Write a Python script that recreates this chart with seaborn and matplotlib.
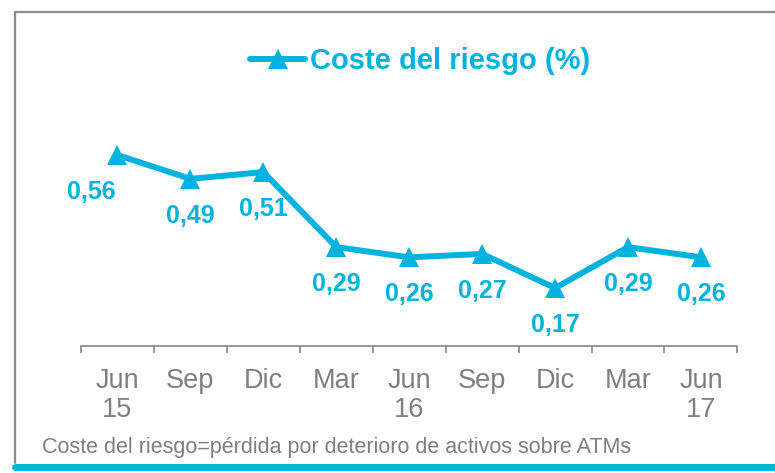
import numpy as np
import pandas as pd
import seaborn as sns
import matplotlib.pyplot as plt
from matplotlib.lines import Line2D

periods = ["Jun\n15", "Sep", "Dic", "Mar", "Jun\n16", "Sep", "Dic", "Mar", "Jun\n17"]
cost_risk = [0.56, 0.49, 0.51, 0.29, 0.26, 0.27, 0.17, 0.29, 0.26]
series_name = "Coste del riesgo (%)"
footnote = "Coste del riesgo=pérdida por deterioro de activos sobre ATMs"

cyan = "#00B3DE"
grey = "#7F7F7F"

sns.set_style("white")
plt.rcParams['font.family'] = ['Liberation Sans', 'DejaVu Sans']

df = pd.DataFrame({"pos": np.arange(len(periods)), "value": cost_risk})

fig = plt.figure(figsize=(7.75, 4.73), dpi=100)
ax = fig.add_axes([0.1045, 0.2685, 0.847, 0.685])

sns.lineplot(data=df, x="pos", y="value", ax=ax, color=cyan, linewidth=4.3,
             marker="^", markersize=15, markeredgewidth=0, label=series_name)

# value labels under each point
for i, v in enumerate(cost_risk):
    dx = -26 if i == 0 else 0
    ax.annotate(f"{v:.2f}".replace(".", ","), (i, v), xytext=(dx, -37),
                textcoords="offset pixels", ha="center", va="center",
                fontsize=18, fontweight="bold", color=cyan)

ax.set_xlim(-0.5, len(periods) - 0.5)
ax.set_ylim(0, 0.95)
ax.set_xticks(np.arange(len(periods)))
ax.set_xticklabels(periods, color=grey, fontsize=19.5, linespacing=1.15)
ax.set_xticks(np.arange(-0.5, len(periods), 1), minor=True)
ax.tick_params(axis="x", which="major", length=0, pad=16)
ax.tick_params(axis="x", which="minor", bottom=True, length=5, width=1.2,
               color="#868686", direction="out")
ax.set_yticks([])
ax.set_xlabel("")
ax.set_ylabel("")
for s in ["top", "right", "left"]:
    ax.spines[s].set_visible(False)
ax.spines["bottom"].set_color("#868686")
ax.spines["bottom"].set_linewidth(1.2)

leg = ax.legend(loc="center", bbox_to_anchor=(0.542, 0.871), bbox_transform=fig.transFigure,
                frameon=False, handlelength=1.9, handletextpad=0.15,
                prop={"size": 21, "weight": "bold"})
for t in leg.get_texts():
    t.set_color(cyan)

fig.text(42 / 775, 1 - 447 / 473, footnote, color=grey, fontsize=15.5, va="center")

# frame and bottom band
fig.add_artist(Line2D([15 / 775, 15 / 775], [1 - 12 / 473, 1 - 463 / 473],
                      transform=fig.transFigure, color="#8C8C8C", linewidth=1.6))
fig.add_artist(Line2D([15 / 775, 1], [1 - 12 / 473, 1 - 12 / 473],
                      transform=fig.transFigure, color="#8C8C8C", linewidth=1.6))
fig.add_artist(Line2D([15 / 775, 1], [1 - 467 / 473, 1 - 467 / 473],
                      transform=fig.transFigure, color=cyan, linewidth=5))

fig.savefig("out.png", dpi=100)
